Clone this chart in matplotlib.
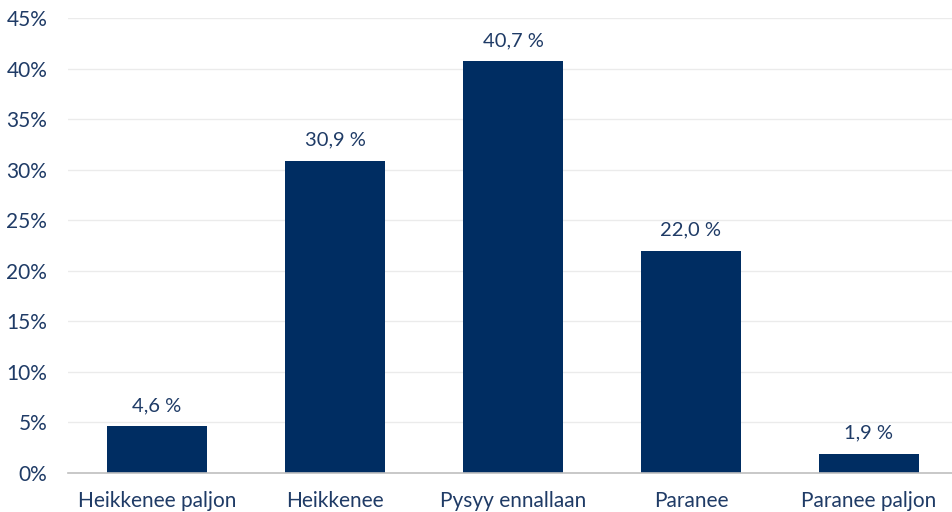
import matplotlib
matplotlib.use("Agg")
import matplotlib.pyplot as plt
from matplotlib.ticker import MultipleLocator

# Data
categories = ["Heikkenee paljon", "Heikkenee", "Pysyy ennallaan", "Paranee", "Paranee paljon"]
values = [4.6, 30.9, 40.7, 22.0, 1.9]

bar_color = "#002D62"
text_color = "#1F3B66"

plt.rcParams['font.family'] = ['Lato', 'DejaVu Sans']

fig = plt.figure(figsize=(9.53, 5.12), dpi=100)
# plot area runs slightly past the right edge, as in the reference
ax = fig.add_axes([68 / 953, 1 - 473 / 512, (958 - 68) / 953, (473 - 18) / 512])

x = range(len(categories))
ax.bar(x, values, width=0.56, color=bar_color, zorder=3)

# Value labels
for xi, v in zip(x, values):
    ax.text(xi, v + 1.2, f"{v:.1f} %".replace(".", ","), ha="center", va="bottom",
            fontsize=14.5, color=text_color)

ax.set_xlim(-0.5, 4.5)
ax.set_ylim(0, 45)
ax.yaxis.set_major_locator(MultipleLocator(5))
ax.set_yticklabels([f"{int(t)}%" for t in ax.get_yticks()])
ax.set_xticks(list(x))
ax.set_xticklabels(categories)

ax.grid(axis="y", color="#EBEBEB", linewidth=1, zorder=0)
for s in ["top", "right", "left"]:
    ax.spines[s].set_visible(False)
ax.spines["bottom"].set_color("#BFBFBF")
ax.spines["bottom"].set_linewidth(1.2)
ax.spines["bottom"].set_zorder(4)

ax.tick_params(axis="both", length=0, labelsize=15, labelcolor=text_color)
ax.tick_params(axis="x", pad=13)
ax.tick_params(axis="y", pad=15)

fig.savefig("out.png", dpi=100)
